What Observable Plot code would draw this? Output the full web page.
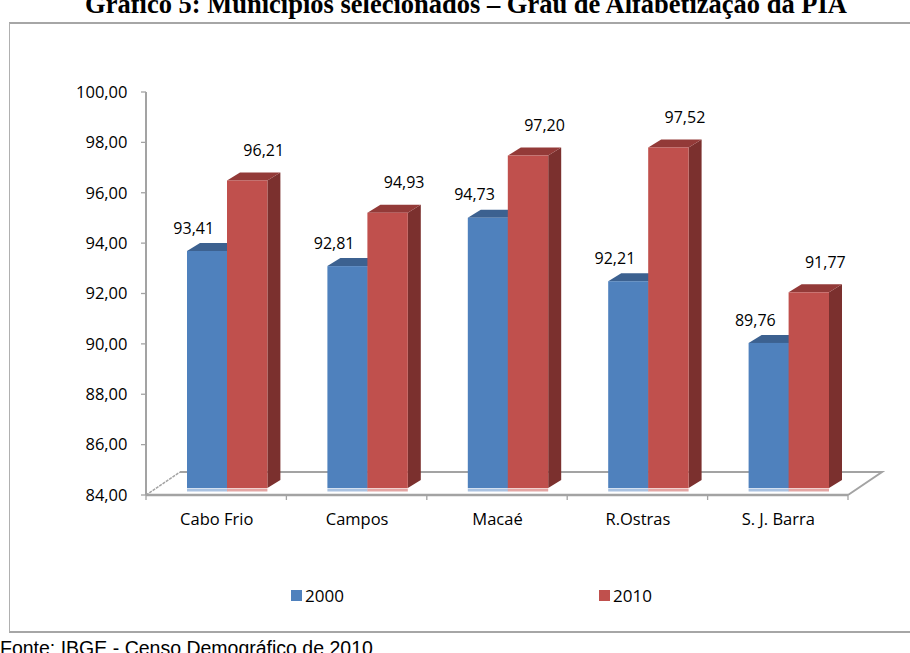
<!DOCTYPE html>
<html>
<head>
<meta charset="utf-8">
<script src="https://cdn.jsdelivr.net/npm/d3@7"></script>
<script src="https://cdn.jsdelivr.net/npm/@observablehq/plot@0.6"></script>
<style>
  html, body { margin: 0; padding: 0; background: #fff; }
  body { position: relative; width: 910px; height: 653px; overflow: hidden; font-family: "Open Sans", sans-serif; }
  #title { position: absolute; left: 0; top: 0; width: 910px; height: 22px; overflow: hidden; }
  #title span { position: absolute; left: 0; width: 932px; top: -11px; line-height: 26px; text-align: center;
    font: bold 26.5px "Liberation Serif", "Times New Roman", serif; color: #000; white-space: nowrap; }
  #box { position: absolute; left: 9px; top: 22px; width: 940px; height: 607px;
    border-top: 2px solid #a6a6a6; border-left: 1px solid #b0b0b0; border-bottom: 2px solid #a6a6a6; }
  #chart { position: absolute; left: 0; top: 24px; }
  #legend { position: absolute; left: 0; top: 584px; width: 910px; height: 22px; font-size: 17px; color: #000; }
  .item { position: absolute; top: 0; display: flex; align-items: center; height: 22px; }
  .swatch { width: 11px; height: 11px; margin-right: 3px; }
  #footer { position: absolute; left: 0; top: 637px; font: 19.5px "Liberation Sans", Arial, sans-serif; color: #000; white-space: nowrap; line-height: 22px; }
</style>
</head>
<body>
<div id="title"><span>Gráfico 5: Municípios selecionados – Grau de Alfabetização da PIA</span></div>
<div id="box"></div>
<div id="chart"></div>
<div id="legend"></div>
<div id="footer">Fonte: IBGE - Censo Demográfico de 2010</div>
<script>
// Municípios e taxas de alfabetização (%) nos censos de 2000 e 2010
const cities = ["Cabo Frio", "Campos", "Macaé", "R.Ostras", "S. J. Barra"];
const values2000 = [93.41, 92.81, 94.73, 92.21, 89.76];
const values2010 = [96.21, 94.93, 97.20, 97.52, 91.77];
const years = ["2000", "2010"];
const yTicks = [84, 86, 88, 90, 92, 94, 96, 98, 100];

const BASE = yTicks[0];
const fmt = v => d3.format(".2f")(v).replace(".", ",");

const rows = cities.map((city, i) => ({city, v2000: values2000[i], v2010: values2010[i]}));

// colours of the faces of each series
const blue = {front: "#4f81bd", top: "#3c6190", side: "#345580", base: "#a9c2e1"};
const red  = {front: "#c0504d", top: "#933a38", side: "#7b302e", base: "#e4a5a3"};
const axisGray = "#a3a3a3";

// oblique projection of the 3D effect
const LIFT = -7;            // bars stand slightly behind the front edge of the floor
const DX = 13, DY = -8;     // depth of each bar
const FDX = 34, FDY = -23;  // depth of the floor
const BLUE_INSET = [41, 59];
const RED_INSET = [81, 19];

const bw = x => (typeof x.bandwidth === "function" ? x.bandwidth() : x.bandwidth);

// floor, y axis line, tick marks
function floorAndAxes(index, scales, values, dims) {
  const {x, y} = scales;
  const xl = dims.marginLeft, xr = dims.width - dims.marginRight;
  const yb = y(BASE), yt = y(yTicks[yTicks.length - 1]);
  const g = d3.create("svg:g").attr("fill", "none").attr("stroke", axisGray);
  g.append("path").attr("stroke-width", 2)
    .attr("d", `M${xl + FDX},${yb + FDY}L${xr + FDX},${yb + FDY}L${xr},${yb}`);
  g.append("path").attr("stroke-width", 1.5).attr("stroke-dasharray", "3,1")
    .attr("d", `M${xl},${yb}L${xl + FDX},${yb + FDY}`);
  g.append("path").attr("stroke-width", 2.5).attr("d", `M${xl},${yb}L${xr},${yb}`);
  g.append("path").attr("stroke-width", 2).attr("d", `M${xl},${yt}L${xl},${yb}`);
  for (const t of yTicks) g.append("path").attr("stroke-width", 1.3).attr("d", `M${xl - 5},${y(t)}H${xl}`);
  const w = bw(x);
  for (let i = 0; i <= cities.length; i++) {
    const px = i < cities.length ? x(cities[i]) : x(cities[i - 1]) + w;
    g.append("path").attr("stroke-width", 1.3).attr("d", `M${px},${yb}V${yb + 5}`);
  }
  return g.node();
}

// top and side faces of a bar series
function faces(key, inset, col, withSide) {
  return (index, scales) => {
    const {x, y} = scales;
    const w = bw(x);
    const g = d3.create("svg:g");
    for (const r of rows) {
      const x0 = x(r.city) + inset[0], x1 = x(r.city) + w - inset[1];
      const yt = y(r[key]) + LIFT, yb = y(BASE) + LIFT;
      if (withSide) g.append("path").attr("fill", col.side)
        .attr("d", `M${x1},${yt}L${x1 + DX},${yt + DY}L${x1 + DX},${yb + DY}L${x1},${yb}Z`);
      g.append("path").attr("fill", col.top)
        .attr("d", `M${x0},${yt}L${x0 + DX},${yt + DY}L${x1 + DX},${yt + DY}L${x1},${yt}Z`);
    }
    return g.node();
  };
}

const chart = Plot.plot({
  width: 910,
  height: 540,
  marginLeft: 146,
  marginRight: 62,
  marginTop: 68,
  marginBottom: 69,
  style: {fontFamily: "'Open Sans', sans-serif", fontSize: "16.5px", color: "#000", background: "transparent", overflow: "visible"},
  x: {domain: cities, padding: 0, round: false, label: null, tickSize: 0, tickPadding: 18},
  y: {domain: [BASE, yTicks[yTicks.length - 1]], ticks: yTicks, tickFormat: fmt, label: null, tickSize: 0, tickPadding: 19},
  marks: [
    floorAndAxes,
    // 2000
    faces("v2000", BLUE_INSET, blue, true),
    Plot.barY(rows, {x: "city", y1: () => BASE, y2: "v2000", insetLeft: BLUE_INSET[0], insetRight: BLUE_INSET[1], dy: LIFT, fill: blue.front}),
    Plot.tickY(rows, {x: "city", y: () => BASE, insetLeft: BLUE_INSET[0], insetRight: BLUE_INSET[1], dy: LIFT + 1.5, stroke: blue.base, strokeWidth: 3}),
    // 2010
    faces("v2010", RED_INSET, red, true),
    Plot.barY(rows, {x: "city", y1: () => BASE, y2: "v2010", insetLeft: RED_INSET[0], insetRight: RED_INSET[1], dy: LIFT, fill: red.front}),
    Plot.tickY(rows, {x: "city", y: () => BASE, insetLeft: RED_INSET[0], insetRight: RED_INSET[1], dy: LIFT + 1.5, stroke: red.base, strokeWidth: 3}),
    // value labels
    Plot.text(rows, {x: "city", y: "v2000", text: d => fmt(d.v2000), dx: -23, dy: -30, fill: "#000", fontSize: 16}),
    Plot.text(rows, {x: "city", y: "v2010", text: d => fmt(d.v2010), dx: 47, dy: -37, fill: "#000", fontSize: 16})
  ]
});
document.getElementById("chart").appendChild(chart);

// legend
const legend = d3.select("#legend");
const legendX = [291, 599];
years.forEach((yr, i) => {
  const item = legend.append("div").attr("class", "item").style("left", legendX[i] + "px");
  item.append("div").attr("class", "swatch").style("background", i === 0 ? blue.front : red.front);
  item.append("span").text(yr);
});
</script>
</body>
</html>
